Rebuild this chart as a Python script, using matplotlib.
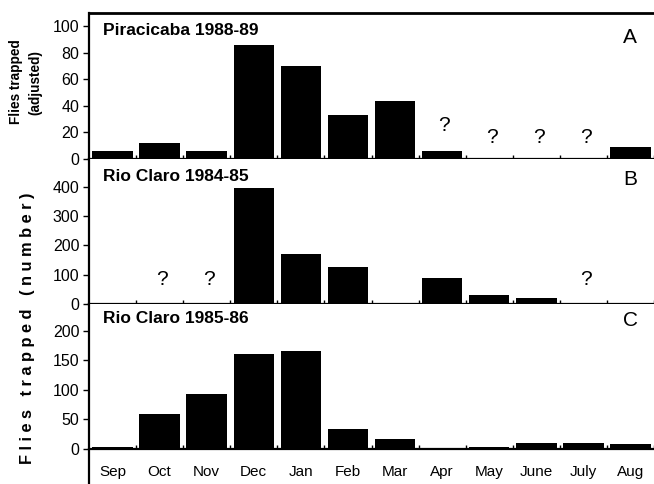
import numpy as np
import matplotlib
matplotlib.use("Agg")
import matplotlib.pyplot as plt

plt.rcParams['font.family'] = ['Liberation Sans', 'DejaVu Sans']

months = ["Sep", "Oct", "Nov", "Dec", "Jan", "Feb", "Mar", "Apr", "May", "June", "July", "Aug"]
nan = np.nan

# Flies trapped per month (nan = no sampling, marked "?")
piracicaba_88 = [6, 12, 6, 86, 70, 33, 44, 6, nan, nan, nan, 9]
rioclaro_84 = [5, nan, nan, 396, 172, 126, 3, 90, 31, 19, nan, 2]
rioclaro_85 = [3, 58, 93, 160, 165, 34, 16, 0, 2, 10, 9, 8]

panels = [
    dict(vals=piracicaba_88, title="Piracicaba 1988-89", letter="A",
         ylim=(0, 110), yticks=[0, 20, 40, 60, 80, 100], q=[7, 8, 9, 10],
         qy=[25, 16, 16, 16]),
    dict(vals=rioclaro_84, title="Rio Claro 1984-85", letter="B",
         ylim=(0, 494), yticks=[0, 100, 200, 300, 400], q=[1, 2, 10],
         qy=[84, 84, 84]),
    dict(vals=rioclaro_85, title="Rio Claro 1985-86", letter="C",
         ylim=(-60, 245), yticks=[0, 50, 100, 150, 200], q=[], qy=[]),
]

fig = plt.figure(figsize=(6.54, 4.84), dpi=100)
W, H = 654, 484
left = 89 / W
bounds = [(13, 159), (159, 304), (304, 484)]

x = np.arange(len(months))
for i, (p, (top, bot)) in enumerate(zip(panels, bounds)):
    ax = fig.add_axes([left, 1 - bot / H, 1 - left, (bot - top) / H])
    vals = np.array(p["vals"], dtype=float)
    ax.bar(x, np.nan_to_num(vals), width=0.86, color="black", zorder=2)
    ax.set_xlim(-0.5, 11.4)
    ax.set_ylim(*p["ylim"])
    ax.set_yticks(p["yticks"])
    ax.tick_params(axis="y", direction="out", length=4, width=1, pad=3,
                   labelsize=11.5)
    ax.spines["right"].set_visible(False)
    for s in ("left", "top", "bottom"):
        ax.spines[s].set_linewidth(1.6)
    ax.set_xticks(x + 0.5, minor=True)
    ax.tick_params(axis="x", which="minor", direction="in", length=3, width=1)
    if i < 2:
        ax.set_xticks([])
        ax.spines["top"].set_visible(i == 0)
        ax.spines["top"].set_linewidth(2.0)
    else:
        ax.spines["top"].set_visible(False)
        ax.spines["bottom"].set_position(("data", 0))
        ax.set_xticks(x)
        ax.set_xticklabels(months)
        ax.tick_params(axis="x", which="major", length=0, pad=12,
                       labelsize=11)
    ax.text(0.025, 0.88 if i == 0 else 0.88 if i == 1 else 0.92, p["title"],
            transform=ax.transAxes, fontsize=12.5, fontweight="bold",
            ha="left", va="center")
    ax.text(0.958, 0.83 if i == 0 else 0.86 if i == 1 else 0.91, p["letter"],
            transform=ax.transAxes, fontsize=15, ha="center", va="center")
    for qi, qy in zip(p["q"], p["qy"]):
        ax.text(qi + 0.05, qy, "?", fontsize=15, ha="center", va="center")

# axis titles
fig.text(16 / W, 1 - 82 / H, "Flies trapped", rotation=90, fontsize=9.8,
         fontweight="bold", ha="center", va="center")
fig.text(35 / W, 1 - 83 / H, "(adjusted)", rotation=90, fontsize=9.8,
         fontweight="bold", ha="center", va="center")
fig.text(28 / W, 1 - 328 / H, "F l i e s   t r a p p e d   ( n u m b e r )",
         rotation=90, fontsize=11.8, fontweight="bold", ha="center",
         va="center")

fig.savefig("out.png", dpi=100)
